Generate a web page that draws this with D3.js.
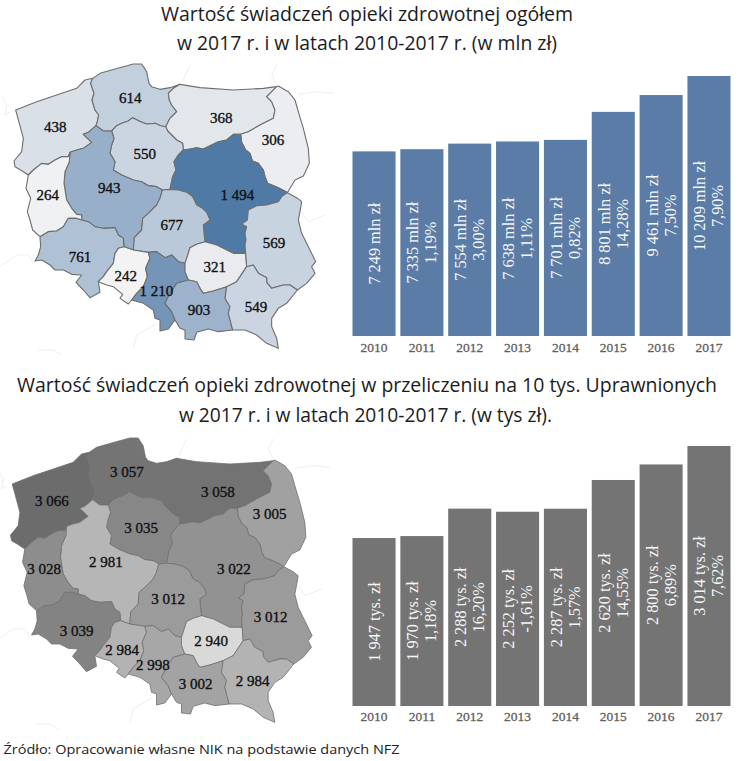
<!DOCTYPE html>
<html lang="pl">
<head>
<meta charset="utf-8">
<script src="https://cdn.jsdelivr.net/npm/d3@7"></script>
<style>
html,body{margin:0;padding:0;background:#fff}
svg{display:block}
.title{font-family:"Open Sans",sans-serif;font-size:19.5px;fill:#1c1c1c;text-anchor:middle}
.src{font-family:"Open Sans",sans-serif;font-size:13.5px;fill:#222}
.mapv{font-family:"Liberation Serif",serif;font-size:15px;fill:#111;text-anchor:middle;dominant-baseline:central;stroke:#111;stroke-width:.35}
.barv{font-family:"Liberation Serif",serif;font-size:16.3px;fill:#f4f6f8;text-anchor:middle;dominant-baseline:central}
.yr{font-family:"Liberation Serif",serif;font-size:13.5px;fill:#5f5f5f;stroke:#5f5f5f;stroke-width:.3;text-anchor:middle;dominant-baseline:central}
</style>
</head>
<body>
<div id="chart"></div>
<script>
// ---- data ----
const years = [2010,2011,2012,2013,2014,2015,2016,2017];
const totalValues = [7249,7335,7554,7638,7701,8801,9461,10209];
const totalLabels = ["7 249 mln zł","7 335 mln zł","7 554 mln zł","7 638 mln zł","7 701 mln zł","8 801 mln zł","9 461 mln zł","10 209 mln zł"];
const totalChanges = ["","1,19%","3,00%","1,11%","0,82%","14,28%","7,50%","7,90%"];
const perValues = [1947,1970,2288,2252,2287,2620,2800,3014];
const perLabels = ["1 947 tys. zł","1 970 tys. zł","2 288 tys. zł","2 252 tys. zł","2 287 tys. zł","2 620 tys. zł","2 800 tys. zł","3 014 tys. zł"];
const perChanges = ["","1,18%","16,20%","-1,61%","1,57%","14,55%","6,89%","7,62%"];

const regions = ["zachodniopomorskie","pomorskie","warminsko-mazurskie","podlaskie","kujawsko-pomorskie","wielkopolskie","lubuskie","mazowieckie","lodzkie","dolnoslaskie","opolskie","slaskie","swietokrzyskie","malopolskie","lubelskie","podkarpackie"];
const regionTotals = [438,614,368,306,550,943,264,1494,677,761,242,1210,321,903,569,549];
const regionPer = [3066,3057,3058,3005,3035,2981,3028,3022,3012,3039,2984,2998,2940,3002,3012,2984];

// region outlines, traced once from the picture as shared borders (geographic base-map units)
const borders = {
 coastZ:[[85,360],[62,345],[45,335],[42,318],[65,290],[70,250],[58,205],[47,165],[110,140],[170,120],[230,100],[255,75],[278,70]],
 zp:[[278,70],[272,85],[282,115],[276,135],[285,165],[296,180],[292,200],[288,212]],
 zw:[[288,212],[265,232],[250,238],[275,262],[250,280],[230,285],[210,292]],
 zl:[[210,292],[205,305],[185,305],[165,315],[145,328],[125,325],[100,345],[85,360]],
 coastP:[[278,70],[300,55],[345,42],[400,27],[425,27],[440,50],[447,85],[455,95],[480,103],[510,98],[540,88]],
 pw:[[540,88],[520,100],[505,115],[508,135],[515,150],[530,170],[520,180],[510,190],[497,215]],
 pk:[[497,215],[482,212],[465,205],[440,207],[422,200],[398,188],[385,198],[365,205],[350,212],[335,228]],
 pwl:[[288,212],[310,228],[335,228]],
 coastW:[[540,88],[600,98],[700,105],[790,100],[830,95]],
 wpod:[[830,95],[800,125],[815,140],[825,165],[820,190],[780,210],[745,230],[722,238]],
 wm:[[722,238],[700,238],[680,255],[655,260],[635,270],[610,282],[590,278],[570,282],[550,285]],
 wk:[[550,285],[548,265],[530,255],[515,240],[503,228],[497,215]],
 podE:[[830,95],[835,93],[865,110],[885,135],[895,170],[910,220],[925,280],[928,325],[910,363],[885,375],[862,413]],
 podM:[[722,238],[725,262],[737,285],[750,295],[757,318],[775,325],[790,345],[795,365],[803,385],[835,398],[858,410],[862,413]],
 lubE:[[862,413],[890,428],[905,440],[900,470],[895,495],[905,535],[925,575],[947,620],[935,635],[945,655],[920,685],[892,705]],
 lubP:[[892,705],[870,690],[850,690],[815,700],[800,682],[800,668],[775,655],[760,630],[740,635]],
 lubS:[[740,635],[737,595]],
 lubM:[[737,595],[735,570],[738,555],[735,535],[740,515],[725,507],[742,495],[745,465],[770,452],[800,450],[835,440],[845,425],[862,413]],
 mk:[[550,285],[535,300],[522,320],[528,345],[518,365],[510,403]],
 ml:[[510,403],[535,405],[560,412],[578,425],[590,450],[605,458],[620,472],[630,495],[610,510],[612,535],[615,560]],
 ms:[[615,560],[650,570],[700,595],[737,595]],
 kw:[[335,228],[342,250],[335,270],[330,295],[345,320],[340,345],[365,360],[400,375],[425,380],[445,392],[470,395],[487,405]],
 kl:[[487,405],[510,403]],
 wl:[[210,292],[208,320],[195,350],[192,385],[200,435],[215,460],[230,478],[245,480],[245,495]],
 lubW:[[85,360],[78,400],[92,430],[82,470],[90,495],[98,525],[120,545]],
 ldo:[[120,545],[145,530],[170,528],[190,515],[205,490],[228,490],[245,495]],
 wd:[[245,495],[265,500],[285,515],[310,520],[345,518],[355,540],[370,550],[372,575]],
 wo:[[372,575],[400,585]],
 wlod:[[400,585],[403,548],[425,525],[428,490],[445,475],[470,450],[480,430],[487,405]],
 dW:[[120,545],[122,575],[115,600],[105,618],[125,615],[150,630],[165,645],[190,645],[215,658],[245,660],[228,682],[250,705],[270,728],[300,712],[295,680]],
 dO:[[295,680],[310,665],[320,650],[340,625],[345,595],[355,580],[372,575]],
 ol:[[400,585],[445,592]],
 os:[[445,592],[450,610],[437,640],[442,665],[430,695],[410,715],[395,735]],
 oS:[[295,680],[320,690],[340,695],[368,718],[360,730],[385,747],[395,735]],
 ls:[[445,592],[470,590],[495,608],[515,600],[535,620],[555,625]],
 lsw:[[555,625],[560,610],[570,578],[590,568],[615,560]],
 ssw:[[555,625],[555,650],[565,675]],
 sm:[[565,675],[530,685],[510,715],[495,745],[515,770],[525,795]],
 sS:[[395,735],[430,745],[460,765],[465,790],[480,795],[480,828],[505,822],[525,795]],
 swm:[[565,675],[590,680],[600,700],[610,715],[640,708],[680,695]],
 swp:[[680,695],[710,680],[730,650],[740,635]],
 mp:[[680,695],[675,730],[690,755],[685,775],[698,825]],
 mS:[[525,795],[540,820],[555,825],[555,852],[582,855],[590,832],[625,822],[655,830],[698,825]],
 pS:[[892,705],[860,745],[835,760],[815,790],[815,815],[830,850],[835,880],[800,865],[770,840],[735,825],[698,825]]
};
// "-" prefix: walk the border backwards
const regionRings = [
 ["coastZ","zp","zw","zl"],
 ["coastP","pw","pk","-pwl","-zp"],
 ["coastW","wpod","wm","wk","-pw"],
 ["podE","-podM","-wpod"],
 ["pk","kw","kl","-mk","wk"],
 ["pwl","kw","-wlod","-wo","-wd","-wl","-zw"],
 ["zl","lubW","ldo","-wl"],
 ["wm","mk","ml","ms","lubM","-podM"],
 ["-wlod","ol","ls","lsw","-ml","-kl"],
 ["dW","dO","-wd","-ldo"],
 ["wo","ol","os","-oS","dO"],
 ["ls","ssw","sm","-sS","-os"],
 ["lsw","ms","-lubS","-swp","-swm","-ssw"],
 ["swm","mp","-mS","-sm"],
 ["lubE","lubP","lubS","lubM"],
 ["swp","-lubP","pS","-mp"]
];
const labelAnchors = [[166,216],[391,130],[664,188],[819,256],[434,297],[328,399],[143,419],[712,420],[515,510],[240,607],[377,663],[469,708],[644,635],[597,765],[822,563],[768,757]];
const neighbourLines = [
 [[5,125],[20,150],[15,180],[30,170]],
 [[0,635],[50,600],[85,600],[100,625]],
 [[570,30],[545,85]],
 [[830,30],[815,60],[830,90]],
 [[470,805],[410,840],[400,880]],
 [[115,885],[160,885],[185,900]],
 [[895,118],[950,110],[1000,115]],
 [[905,470],[925,500],[975,480]]
];

// ---- geometry helpers ----
function ringOf(names){
  const pts=[];
  names.forEach(n=>{
    const rev=n[0]==="-";
    const a=borders[rev?n.slice(1):n];
    (rev?a.slice().reverse():a).forEach(p=>pts.push(p));
  });
  return pts;
}
const features = regions.map((name,i)=>({type:"Feature",properties:{name},geometry:{type:"Polygon",coordinates:[ringOf(regionRings[i])]}}));

const W=739,H=761;
const svg=d3.select("#chart").append("svg").attr("width",W).attr("height",H).attr("viewBox",[0,0,W,H]);

function title(line,y,x0,x1){
  svg.append("text").attr("class","title").attr("x",(x0+x1)/2).attr("y",y)
    .attr("textLength",x1-x0).attr("lengthAdjust","spacingAndGlyphs").text(line);
}
title("Wartość świadczeń opieki zdrowotnej ogółem",20.5,161,573);
title("w 2017 r. i w latach 2010-2017 r. (w mln zł)",50,177,557);
title("Wartość świadczeń opieki zdrowotnej w przeliczeniu na 10 tys. Uprawnionych",392,17,717);
title("w 2017 r. i w latach 2010-2017 r. (w tys zł).",422,179,552);

function drawMap(values,color,dx,dy,stroke,sw){
  const projection=d3.geoIdentity().scale(1/3).translate([dx,dy]);
  const path=d3.geoPath(projection);
  const g=svg.append("g");
  g.append("g").selectAll("path").data(neighbourLines).join("path")
    .attr("d",d=>path({type:"LineString",coordinates:d}))
    .attr("fill","none").attr("stroke","#eeeeee").attr("stroke-width",1);
  g.append("g").selectAll("path").data(features).join("path")
    .attr("d",path)
    .attr("fill",(d,i)=>color(values[i]))
    .attr("stroke",stroke).attr("stroke-width",sw).attr("stroke-linejoin","round");
  g.append("g").selectAll("text").data(values).join("text")
    .attr("class","mapv")
    .attr("x",(d,i)=>projection(labelAnchors[i])[0])
    .attr("y",(d,i)=>projection(labelAnchors[i])[1])
    .text(d=>d>=1000?d3.format("d")(Math.floor(d/1000))+" "+d3.format("03d")(d%1000):d);
}
drawMap(regionTotals,
  d3.scaleLinear().domain(d3.extent(regionTotals)).range(["#f3f3f4","#4f7aa6"]),
  0,55,"#6e6e6e",1.1);
drawMap(regionPer,
  d3.scaleLinear().domain(d3.extent(regionPer)).range(["#d9d9d9","#6c6c6c"]),
  -3.5,429,"#707070",0.8);

function drawBars(values,labels,changes,fill,y0,y1,yrY){
  const x=d3.scaleBand().domain(years).range([352.5,730.5]).paddingInner(0.1).paddingOuter(0);
  const y=d3.scaleLinear().domain([0,d3.max(values)]).range([y0,y1]);
  const g=svg.append("g");
  g.selectAll("rect").data(years).join("rect")
    .attr("x",d=>x(d)).attr("width",x.bandwidth())
    .attr("y",(d,i)=>y(values[i])).attr("height",(d,i)=>y0-y(values[i]))
    .attr("fill",fill);
  const lab=g.selectAll("g.lab").data(years).join("g").attr("class","lab")
    .attr("transform",(d,i)=>`translate(${x(d)+x.bandwidth()/2},${(y(values[i])+y0)/2}) rotate(-90)`);
  lab.append("text").attr("class","barv").attr("y",(d,i)=>changes[i]?-9:0).text((d,i)=>labels[i]);
  lab.append("text").attr("class","barv").attr("y",9).text((d,i)=>changes[i]);
  const axis=d3.axisBottom(x).tickSize(0);
  const ax=svg.append("g").attr("transform",`translate(0,${yrY})`).call(axis);
  ax.select(".domain").remove();
  ax.attr("font-family",null).attr("font-size",null);
  ax.selectAll("text").attr("class","yr").attr("y",0).attr("dy",0).attr("fill",null);
}
drawBars(totalValues,totalLabels,totalChanges,"#5a7ca6",336,76,347);
drawBars(perValues,perLabels,perChanges,"#747474",706,446,716.5);

svg.append("text").attr("class","src").attr("x",3.5).attr("y",754)
  .attr("textLength",396).attr("lengthAdjust","spacingAndGlyphs")
  .text("Źródło: Opracowanie własne NIK na podstawie danych NFZ");
</script>
</body>
</html>
